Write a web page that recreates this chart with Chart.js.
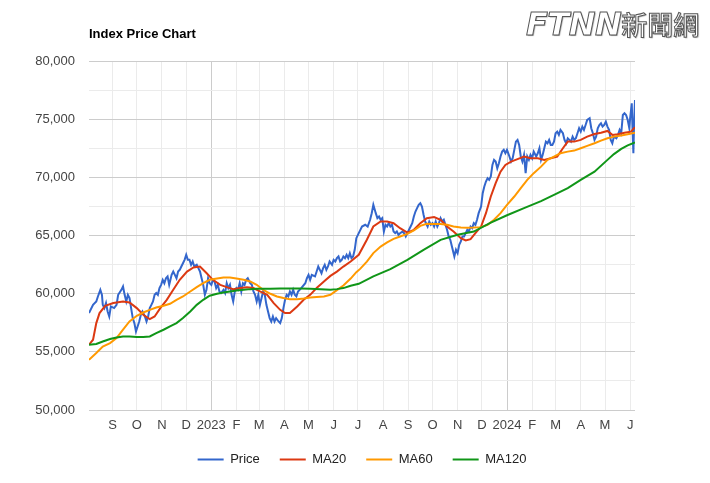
<!DOCTYPE html>
<html>
<head>
<meta charset="utf-8">
<script src="https://cdn.jsdelivr.net/npm/chart.js@4.4.1/dist/chart.umd.min.js"></script>
<style>
  body { margin: 0; background: #fff; }
  #wrap { position: relative; width: 710px; height: 483px; }
  #logo { position: absolute; left: 526px; top: 5px; white-space: nowrap; color: #fff;
          -webkit-text-stroke: 1px #555; text-shadow: 1px 1px 1px rgba(0,0,0,0.35); }
  #logo .en { font: italic bold 32px "DejaVu Sans"; letter-spacing: -0.5px; }
  #logo .zh { font: 500 26px "Noto Sans CJK TC"; }
</style>
</head>
<body>
<div id="wrap">
  <canvas id="priceChart" width="710" height="483"></canvas>
  <div id="logo"><span class="en">FTNN</span><span class="zh">新聞網</span></div>
</div>
<script>
// Index price with moving averages
const priceDates = [
  "2022-08-03","2022-08-08","2022-08-12","2022-08-14","2022-08-17","2022-08-19","2022-08-20","2022-08-22","2022-08-24","2022-08-26","2022-08-28","2022-08-30",
  "2022-09-03","2022-09-06","2022-09-08","2022-09-12","2022-09-14","2022-09-16","2022-09-18","2022-09-20","2022-09-22","2022-09-24","2022-09-26","2022-09-28","2022-09-30",
  "2022-10-02","2022-10-04","2022-10-06","2022-10-08","2022-10-11","2022-10-13","2022-10-15","2022-10-17","2022-10-19","2022-10-21","2022-10-23","2022-10-25","2022-10-27","2022-10-29","2022-10-31",
  "2022-11-02","2022-11-04","2022-11-06","2022-11-08","2022-11-10","2022-11-13","2022-11-15","2022-11-17","2022-11-19","2022-11-21","2022-11-23","2022-11-25","2022-11-27","2022-11-29",
  "2022-12-01","2022-12-03","2022-12-05","2022-12-07","2022-12-09","2022-12-11","2022-12-14","2022-12-16","2022-12-18","2022-12-20","2022-12-22","2022-12-24","2022-12-26","2022-12-28","2022-12-30",
  "2023-01-01","2023-01-03","2023-01-05","2023-01-07","2023-01-09","2023-01-11","2023-01-13","2023-01-16","2023-01-18","2023-01-20","2023-01-22","2023-01-24","2023-01-26","2023-01-28","2023-01-30",
  "2023-02-01","2023-02-03","2023-02-05","2023-02-07","2023-02-09","2023-02-11","2023-02-13","2023-02-15","2023-02-18","2023-02-20","2023-02-22","2023-02-24","2023-02-26","2023-02-28",
  "2023-03-02","2023-03-04","2023-03-06","2023-03-08","2023-03-10","2023-03-12","2023-03-14","2023-03-16","2023-03-18","2023-03-20","2023-03-22","2023-03-25","2023-03-27","2023-03-29","2023-03-31",
  "2023-04-02","2023-04-04","2023-04-06","2023-04-08","2023-04-10","2023-04-12","2023-04-14","2023-04-16","2023-04-18","2023-04-22","2023-04-27","2023-04-29",
  "2023-05-01","2023-05-03","2023-05-05","2023-05-09","2023-05-11","2023-05-13","2023-05-15","2023-05-17","2023-05-19","2023-05-21","2023-05-23","2023-05-25","2023-05-27","2023-05-30",
  "2023-06-01","2023-06-03","2023-06-05","2023-06-07","2023-06-09","2023-06-11","2023-06-13","2023-06-15","2023-06-17","2023-06-19","2023-06-21","2023-06-23","2023-06-25","2023-06-27","2023-06-29",
  "2023-07-02","2023-07-04","2023-07-06","2023-07-10","2023-07-13","2023-07-16","2023-07-18","2023-07-20","2023-07-23","2023-07-25","2023-07-27","2023-07-29","2023-07-31",
  "2023-08-02","2023-08-04","2023-08-06","2023-08-08","2023-08-10","2023-08-12","2023-08-14","2023-08-16","2023-08-18","2023-08-20","2023-08-22","2023-08-25","2023-08-27","2023-08-29","2023-08-31",
  "2023-09-02","2023-09-04","2023-09-06","2023-09-08","2023-09-10","2023-09-12","2023-09-14","2023-09-16","2023-09-18","2023-09-20","2023-09-22","2023-09-25","2023-09-27","2023-09-29",
  "2023-10-01","2023-10-03","2023-10-05","2023-10-07","2023-10-09","2023-10-11","2023-10-13","2023-10-15","2023-10-17","2023-10-19","2023-10-21","2023-10-23","2023-10-25","2023-10-28","2023-10-30",
  "2023-11-01","2023-11-03","2023-11-05","2023-11-07","2023-11-09","2023-11-11","2023-11-13","2023-11-15","2023-11-17","2023-11-19","2023-11-21","2023-11-23","2023-11-25","2023-11-27","2023-11-30",
  "2023-12-02","2023-12-04","2023-12-06","2023-12-08","2023-12-10","2023-12-12","2023-12-14","2023-12-16","2023-12-18","2023-12-20","2023-12-22","2023-12-24","2023-12-26","2023-12-28","2023-12-30",
  "2024-01-01","2024-01-04","2024-01-06","2024-01-08","2024-01-10","2024-01-12","2024-01-14","2024-01-16","2024-01-18","2024-01-20","2024-01-22","2024-01-24","2024-01-26","2024-01-28","2024-01-30",
  "2024-02-01","2024-02-03","2024-02-06","2024-02-08","2024-02-10","2024-02-12","2024-02-14","2024-02-16","2024-02-18","2024-02-20","2024-02-22","2024-02-24","2024-02-26","2024-02-28",
  "2024-03-01","2024-03-03","2024-03-05","2024-03-07","2024-03-10","2024-03-12","2024-03-14","2024-03-16","2024-03-18","2024-03-20","2024-03-22","2024-03-24","2024-03-26","2024-03-28","2024-03-30",
  "2024-04-01","2024-04-03","2024-04-05","2024-04-07","2024-04-09","2024-04-12","2024-04-14","2024-04-16","2024-04-18","2024-04-20","2024-04-22","2024-04-24","2024-04-26","2024-04-28","2024-04-30",
  "2024-05-02","2024-05-04","2024-05-06","2024-05-08","2024-05-10","2024-05-12","2024-05-15","2024-05-17","2024-05-19","2024-05-21","2024-05-23","2024-05-25","2024-05-27","2024-05-29","2024-05-31",
  "2024-06-01","2024-06-03","2024-06-04","2024-06-05","2024-06-06","2024-06-07"
];
const priceValues = [
  58330,59040,59330,59760,60330,59900,59040,58760,59190,58470,58040,58900,
  58760,59040,59900,60330,60620,59900,59330,59900,59620,58760,57900,57470,56750,
  57180,57610,58190,58470,58040,57610,58040,58760,59040,59330,59900,60050,59900,60480,60760,
  61190,60900,61330,61480,60760,61620,61910,61620,61330,61910,62050,62340,62620,62910,
  63340,62910,62910,62480,62770,62340,62480,62190,61910,61330,60760,59900,60330,61330,60900,
  60760,61190,61050,60480,60760,60190,60050,60330,60050,60900,60480,60760,59900,59330,60190,
  60480,60330,60900,60190,60900,60760,61190,61330,60900,60760,60190,59900,59330,59900,
  59040,59620,60190,59900,59040,58470,57900,57610,58040,57610,57900,57610,57470,57900,58760,
  59470,59900,59760,60190,59900,60330,59900,59760,60190,60480,60900,61330,
  61620,61190,61620,61480,61910,62340,62050,61760,62190,62480,62050,62340,62770,62480,
  62910,62770,63050,63200,62770,62910,63200,63050,63340,63050,63480,63050,63200,63770,64770,
  65200,65480,65770,65920,65770,66350,66920,67640,66920,66490,66630,66350,66490,
  65340,65920,65770,66060,65770,65920,65340,65200,65340,65060,65200,65340,65200,64910,65200,
  65490,65770,66060,66630,67060,67350,67640,67780,67490,66780,66200,65770,66200,65920,
  66060,65770,66200,65770,66060,66490,66200,66350,65920,65490,64910,64630,64050,63200,63770,
  63480,64200,64490,64910,64910,65200,65490,65340,65770,65630,66060,65920,66350,66920,67490,
  68640,69210,69640,69920,69780,70070,71070,71500,71360,70780,71210,71790,72210,72360,72070,
  72360,71790,71360,71640,72360,73070,73220,72790,71790,71360,71930,70350,71790,71500,71930,
  71640,72210,71790,72070,72500,71500,71930,72500,73070,72930,73220,72790,72790,73070,
  73790,73930,73650,74080,73790,73220,72930,73360,73220,73070,73500,73220,73360,73790,74220,
  73930,74360,74080,74500,74930,75080,74220,73790,73220,73500,74220,74500,74650,74360,74500,
  74790,74360,74080,73220,72930,73500,73360,73650,74080,73790,75360,75510,75360,74930,74220,
  75080,76360,74080,72070,74930,76650
];

const ma20Dates = [
  "2022-08-03","2022-08-08","2022-08-12","2022-08-16","2022-08-23","2022-09-02","2022-09-14","2022-09-22","2022-10-01","2022-10-09","2022-10-17","2022-10-23","2022-10-30",
  "2022-11-07","2022-11-15","2022-11-23","2022-12-02","2022-12-10","2022-12-18","2022-12-26","2023-01-03","2023-01-12","2023-01-20","2023-01-28","2023-02-06","2023-02-14","2023-02-22",
  "2023-03-02","2023-03-11","2023-03-19","2023-03-27","2023-04-02","2023-04-08","2023-04-17","2023-04-25","2023-05-03","2023-05-11","2023-05-20","2023-05-28","2023-06-05","2023-06-13","2023-06-22",
  "2023-07-02","2023-07-12","2023-07-20","2023-07-29","2023-08-06","2023-08-14","2023-08-22","2023-08-31","2023-09-08","2023-09-16","2023-09-24","2023-10-03","2023-10-11","2023-10-19","2023-10-27",
  "2023-11-05","2023-11-11","2023-11-17","2023-11-23","2023-11-30","2023-12-06","2023-12-12","2023-12-18","2023-12-24","2023-12-30","2024-01-06","2024-01-14","2024-01-22","2024-01-30",
  "2024-02-08","2024-02-16","2024-02-24","2024-03-03","2024-03-10","2024-03-16","2024-03-24","2024-04-01","2024-04-09","2024-04-18","2024-04-26","2024-05-04","2024-05-10","2024-05-17","2024-05-25","2024-06-02","2024-06-07"
];
const ma20Values = [
  55610,56040,57470,58330,58960,59190,59330,59240,58760,58190,57820,58040,58760,
  59470,60330,61190,61900,62250,62330,61770,61190,60760,60560,60390,60480,60560,60480,
  60190,59900,59190,58610,58330,58330,58900,59470,59900,60480,61050,61530,61900,62330,62760,
  63340,64630,65770,66200,66200,66060,65630,65250,65490,66060,66490,66580,66350,65770,65340,
  64770,64570,64690,65200,65770,66920,68350,69500,70490,71070,71350,71560,71780,71640,
  71640,71500,71640,71780,72500,73070,73070,73220,73500,73730,73840,73990,73650,73710,73840,73930,74310
];

const ma60Dates = [
  "2022-08-03","2022-08-12","2022-08-20","2022-08-29","2022-09-06","2022-09-14","2022-09-22","2022-10-01","2022-10-09","2022-10-17","2022-10-25",
  "2022-11-03","2022-11-11","2022-11-19","2022-11-27","2022-12-06","2022-12-14","2022-12-22","2022-12-30","2023-01-08","2023-01-16","2023-01-24",
  "2023-02-01","2023-02-10","2023-02-18","2023-02-26","2023-03-06","2023-03-15","2023-03-23","2023-03-31","2023-04-08","2023-04-17","2023-04-25",
  "2023-05-03","2023-05-11","2023-05-20","2023-05-28","2023-06-05","2023-06-13","2023-06-22","2023-06-29","2023-07-04","2023-07-12","2023-07-20","2023-07-29",
  "2023-08-06","2023-08-14","2023-08-22","2023-08-31","2023-09-08","2023-09-16","2023-09-24","2023-10-03","2023-10-11","2023-10-19","2023-10-27",
  "2023-11-05","2023-11-13","2023-11-21","2023-11-30","2023-12-08","2023-12-16","2023-12-24","2024-01-01","2024-01-10","2024-01-18","2024-01-26",
  "2024-02-03","2024-02-12","2024-02-20","2024-02-28","2024-03-07","2024-03-16","2024-03-24","2024-04-01","2024-04-09","2024-04-18","2024-04-26",
  "2024-05-04","2024-05-12","2024-05-21","2024-05-29","2024-06-07"
];
const ma60Values = [
  54320,54900,55460,55750,56180,56900,57610,58100,58380,58610,58810,
  58960,59130,59470,59760,60190,60560,60910,61190,61300,61390,61390,
  61300,61190,61050,60760,60330,59990,59760,59620,59530,59530,59590,
  59670,59710,59760,59900,60300,60700,61300,61850,62150,62760,63490,64050,
  64400,64710,64910,65140,65430,65830,66000,65980,65980,65920,65770,
  65680,65660,65680,65720,65920,66350,66920,67630,68350,69070,69780,
  70360,70920,71500,71780,72070,72210,72300,72500,72700,72930,73160,
  73360,73500,73590,73710,73840
];

const ma120Dates = [
  "2022-08-03","2022-08-12","2022-08-20","2022-08-29","2022-09-06","2022-09-14","2022-09-22","2022-10-01","2022-10-09","2022-10-17","2022-10-25",
  "2022-11-03","2022-11-11","2022-11-19","2022-11-27","2022-12-06","2022-12-14","2022-12-22","2022-12-30","2023-01-08","2023-01-16","2023-01-24",
  "2023-02-01","2023-02-10","2023-02-18","2023-02-26","2023-03-15","2023-03-27","2023-04-08","2023-04-21","2023-05-03","2023-05-16","2023-05-28",
  "2023-06-05","2023-06-13","2023-06-22","2023-07-02","2023-07-20","2023-08-10","2023-08-31","2023-09-20","2023-10-11","2023-11-01","2023-11-21",
  "2023-12-12","2024-01-01","2024-01-22","2024-02-12","2024-02-28","2024-03-16","2024-04-01","2024-04-18","2024-05-04","2024-05-12","2024-05-21",
  "2024-05-29","2024-06-07"
];
const ma120Values = [
  55610,55670,55890,56100,56240,56320,56320,56270,56270,56320,56610,
  56900,57180,57470,57900,58470,59040,59470,59820,59990,60100,60190,
  60270,60330,60390,60420,60420,60440,60440,60440,60420,60390,60330,
  60390,60480,60680,60850,61480,62110,62900,63770,64630,65060,65340,
  66100,66740,67350,67950,68490,69070,69780,70490,71500,72000,72450,
  72750,73000
];

// x-axis: month ticks with single-letter labels, year at January
const monthTicks = [
  "2022-09-01","2022-10-01","2022-11-01","2022-12-01","2023-01-01","2023-02-01","2023-03-01","2023-04-01","2023-05-01","2023-06-01","2023-07-01",
  "2023-08-01","2023-09-01","2023-10-01","2023-11-01","2023-12-01","2024-01-01","2024-02-01","2024-03-01","2024-04-01","2024-05-01","2024-06-01"
];
const monthLabels = ["S","O","N","D","2023","F","M","A","M","J","J","A","S","O","N","D","2024","F","M","A","M","J"];

const seriesNames = ["Price", "MA20", "MA60", "MA120"];
const seriesColors = ["#3366cc", "#dc3912", "#ff9900", "#109618"];

const FONT = "Arial, 'Liberation Sans', sans-serif";
const base = Date.UTC(2023, 0, 1);

function dayNum(s) {
    const [y, m, d] = s.split("-").map(Number);
    return (Date.UTC(y, m - 1, d) - base) / 86400000;
}

function toPoints(dates, values) {
    return dates.map((d, i) => ({ x: dayNum(d), y: values[i] }));
}

const allSeries = [
    toPoints(priceDates, priceValues),
    toPoints(ma20Dates, ma20Values),
    toPoints(ma60Dates, ma60Values),
    toPoints(ma120Dates, ma120Values),
];

const datasets = allSeries.map((pts, i) => ({
    label: seriesNames[i],
    data: pts,
    borderColor: seriesColors[i],
    backgroundColor: seriesColors[i],
    borderWidth: 2,
    pointRadius: 0,
    tension: 0,
    fill: false,
    order: 4 - i, // moving averages drawn on top of price
}));

new Chart(document.getElementById("priceChart"), {
    type: "line",
    data: { datasets: datasets },
    options: {
        responsive: false,
        animation: false,
        layout: { padding: { left: 0, right: 75, top: 0, bottom: 7 } },
        plugins: {
            title: {
                display: true,
                text: "Index Price Chart",
                align: "start",
                fullSize: false,
                color: "#000",
                font: { family: FONT, size: 13, weight: "bold" },
                padding: { top: 27, bottom: 18.4 },
            },
            legend: {
                position: "bottom",
                fullSize: false,
                labels: {
                    usePointStyle: true,
                    pointStyle: "line",
                    pointStyleWidth: 26,
                    padding: 20,
                    color: "#222",
                    font: { family: FONT, size: 13 },
                    sort: (a, b) => a.datasetIndex - b.datasetIndex,
                },
            },
            tooltip: { enabled: false },
        },
        scales: {
            x: {
                type: "linear",
                min: dayNum(priceDates[0]),
                max: dayNum(priceDates[priceDates.length - 1]),
                afterBuildTicks: (scale) => {
                    scale.ticks = monthTicks.map((d) => ({ value: dayNum(d) }));
                },
                afterFit: (scale) => { scale.height = 23; },
                ticks: {
                    autoSkip: false,
                    maxRotation: 0,
                    padding: 7.5,
                    color: "#444",
                    font: { family: FONT, size: 13 },
                    callback: (value, index) => monthLabels[index],
                },
                grid: {
                    drawTicks: false,
                    color: (ctx) => (monthLabels[ctx.index] && monthLabels[ctx.index].length === 4 ? "#cccccc" : "#ebebeb"),
                },
                border: { display: false },
            },
            y: {
                min: 50000,
                max: 80000,
                afterFit: (scale) => { scale.width = 89; },
                ticks: {
                    stepSize: 2500,
                    padding: 14,
                    color: "#444",
                    font: { family: FONT, size: 13 },
                    callback: (v) => (v % 5000 === 0 ? v.toLocaleString("en-US") : ""),
                },
                grid: {
                    drawTicks: false,
                    color: (ctx) => (ctx.tick && ctx.tick.value % 5000 === 0 ? "#cccccc" : "#ebebeb"),
                },
                border: { display: false },
            },
        },
    },
});
</script>
</body>
</html>
